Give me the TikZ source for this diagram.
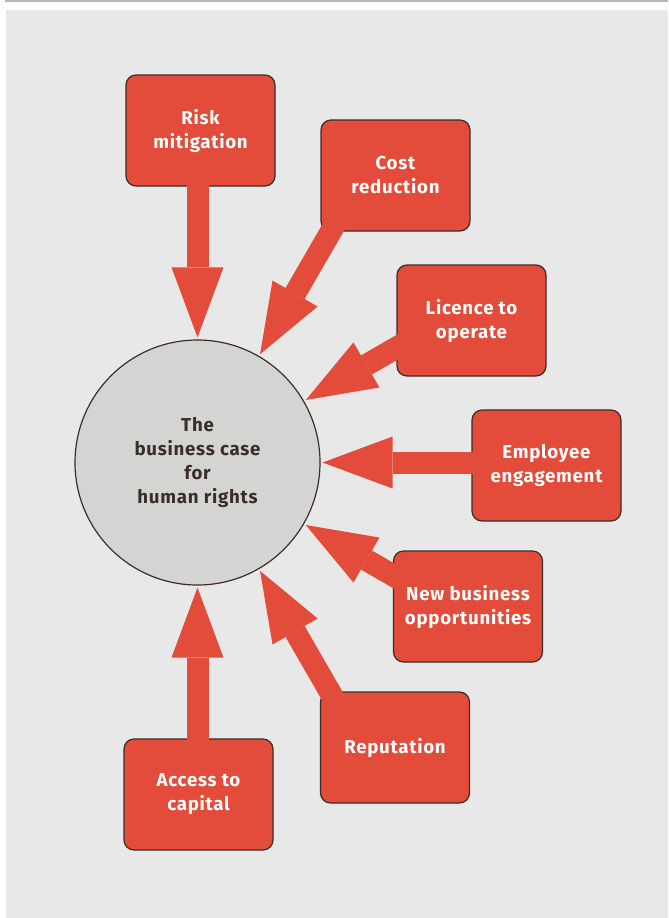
\documentclass[tikz,border=0pt]{standalone}
\usepackage{fontspec}
\setmainfont{Fira Sans}[LetterSpace=4]
\usetikzlibrary{calc,arrows.meta}
\definecolor{casered}{HTML}{E34B3A}
\definecolor{caseline}{HTML}{3B2D28}
\definecolor{casepanel}{HTML}{E8E8E8}
\definecolor{casehub}{HTML}{D4D4D2}
\definecolor{caserule}{HTML}{BDB5AE}
\tikzset{
  casebox/.style={rectangle, rounded corners=7.5pt, fill=casered, draw=caseline,
    line width=0.9pt, minimum width=111.75pt, minimum height=83.25pt,
    text=white, align=center, font=\fontsize{14}{18}\selectfont\bfseries},
  casehub/.style={circle, fill=casehub, draw=caseline, line width=0.9pt,
    minimum size=183.75pt, inner sep=0pt, text=caseline, align=center,
    font=\fontsize{14}{18}\selectfont\bfseries},
  bigarrow/.style={draw=casered, line width=16.5pt, shorten >=1.5pt,
    -{Triangle[length=52.5pt,width=39pt,line width=0pt]}}
}

\begin{document}
\begin{tikzpicture}[x=0.75pt,y=-0.75pt]
  %%%%% START %%%%%
  \useasboundingbox (0,0) rectangle (668,918);
  \fill[casepanel] (6,10) rectangle (668,918);
  \draw[caserule, line width=1.2pt] (5,1) -- (668,1);

  \node[casehub] (hub) at (197.5,462.5) {The\\business case\\for\\human rights};

  \node[casebox] (risk) at (200.5,130.5) {Risk\\mitigation};
  \node[casebox] (cost) at (395.5,175.5) {Cost\\reduction};
  \node[casebox] (licence) at (471.5,320.5) {Licence to\\operate};
  \node[casebox] (employee) at (546.5,465.5) {Employee\\engagement};
  \node[casebox] (business) at (468,606.5) {New business\\opportunities};
  \node[casebox] (reputation) at (395,747.5) {Reputation};
  \node[casebox] (access) at (198.5,794.5) {Access to\\capital};

  % tails sit just inside the boxes, on rays every 30 degrees
  \coordinate (risk-tail) at ($(hub)+(-90:283)$);
  \coordinate (cost-tail) at ($(hub)+(-60:280)$);
  \coordinate (licence-tail) at ($(hub)+(-30:245)$);
  \coordinate (employee-tail) at ($(hub)+(0:281)$);
  \coordinate (business-tail) at ($(hub)+(30:236)$);
  \coordinate (reputation-tail) at ($(hub)+(60:280)$);
  \coordinate (access-tail) at ($(hub)+(90:283)$);

  \draw[bigarrow] (risk-tail) -- (hub.90);
  \draw[bigarrow] (cost-tail) -- (hub.60);
  \draw[bigarrow] (licence-tail) -- (hub.30);
  \draw[bigarrow] (employee-tail) -- (hub.0);
  \draw[bigarrow] (business-tail) -- (hub.-30);
  \draw[bigarrow] (reputation-tail) -- (hub.-60);
  \draw[bigarrow] (access-tail) -- (hub.-90);
  %%%%% END %%%%%
\end{tikzpicture}
\end{document}
